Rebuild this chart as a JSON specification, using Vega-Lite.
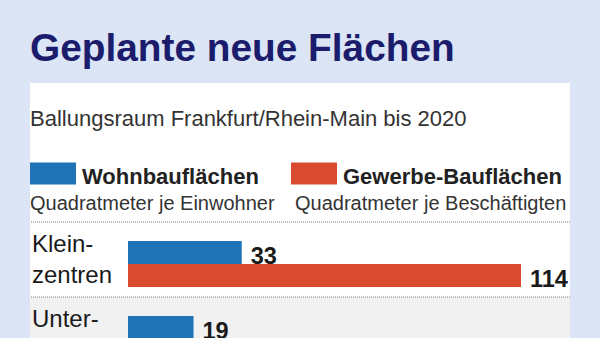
{
  "$schema": "https://vega.github.io/schema/vega-lite/v6.json",
  "width": 600,
  "height": 338,
  "autosize": {"type": "fit", "contains": "padding"},
  "padding": {"left": 30, "right": 30, "top": 30, "bottom": 0},
  "background": "#dce5f6",
  "title": {
    "text": "Geplante neue Flächen",
    "anchor": "start",
    "frame": "group",
    "font": "Liberation Sans",
    "fontSize": 38.8,
    "fontWeight": "bold",
    "color": "#1b1c6b",
    "offset": 14
  },
  "config": {"view": {"stroke": null, "fill": "#ffffff"}},
  "data": {
    "values": [
      {"kat": "Kleinzentren", "label": "Klein-\nzentren", "art": "Wohnbauflächen", "einheit": "Quadratmeter je Einwohner", "wert": 33},
      {"kat": "Kleinzentren", "label": "Klein-\nzentren", "art": "Gewerbe-Bauflächen", "einheit": "Quadratmeter je Beschäftigten", "wert": 114},
      {"kat": "Unterzentren", "label": "Unter-\nzentren", "art": "Wohnbauflächen", "einheit": "Quadratmeter je Einwohner", "wert": 19},
      {"kat": "Unterzentren", "label": "Unter-\nzentren", "art": "Gewerbe-Bauflächen", "einheit": "Quadratmeter je Beschäftigten", "wert": 68}
    ]
  },
  "layer": [
    {
      "transform": [{"filter": "datum.kat == 'Unterzentren' && datum.art == 'Wohnbauflächen'"}],
      "mark": {"type": "rect", "fill": "#f1f1f1", "clip": true},
      "encoding": {
        "y": {"field": "kat", "type": "nominal", "axis": null, "scale": {"domain": ["Kleinzentren", "Unterzentren"], "range": [139, 289], "paddingInner": 0, "paddingOuter": 0}},
        "x": {"value": 0},
        "x2": {"value": "width"}
      }
    },
    {
      "transform": [{"filter": "datum.art == 'Wohnbauflächen'"}],
      "mark": {"type": "rule", "color": "#a8a8a8", "strokeDash": [1, 1], "strokeWidth": 1.5, "clip": true},
      "encoding": {
        "y": {"field": "kat", "type": "nominal", "bandPosition": 0, "axis": null, "scale": {"domain": ["Kleinzentren", "Unterzentren"], "range": [139, 289], "paddingInner": 0, "paddingOuter": 0}}
      }
    },
    {
      "mark": {"type": "bar", "clip": true},
      "encoding": {
        "x": {"field": "wert", "type": "quantitative", "axis": null, "scale": {"domain": [0, 114], "range": [98, 491], "nice": false, "zero": true}},
        "y": {"field": "kat", "type": "nominal", "axis": null, "scale": {"domain": ["Kleinzentren", "Unterzentren"], "range": [139, 289], "paddingInner": 0, "paddingOuter": 0}},
        "yOffset": {"field": "art", "type": "nominal", "scale": {"domain": ["Wohnbauflächen", "Gewerbe-Bauflächen"], "range": [19, 65], "paddingInner": 0, "paddingOuter": 0}},
        "color": {
          "field": "art",
          "type": "nominal",
          "scale": {"domain": ["Wohnbauflächen", "Gewerbe-Bauflächen"], "range": ["#1f74b8", "#d84b2f"]},
          "legend": {
            "orient": "none",
            "legendX": 0,
            "legendY": 26,
            "title": "Ballungsraum Frankfurt/Rhein-Main bis 2020",
            "titleFont": "Liberation Sans",
            "titleFontSize": 22,
            "titleFontWeight": "normal",
            "titleColor": "#333333",
            "titlePadding": 23,
            "titleLimit": 600,
            "direction": "horizontal",
            "columns": 2,
            "columnPadding": 32,
            "symbolType": "M-1,-0.626H1V0.33H-1Z",
            "symbolSize": 2116,
            "symbolStrokeWidth": 0,
            "symbolOpacity": 1,
            "labelFont": "Liberation Sans",
            "labelFontSize": 22,
            "labelFontWeight": "bold",
            "labelColor": "#222222",
            "labelOffset": 6,
            "labelLimit": 300,
            "padding": 0
          }
        },
        "opacity": {
          "field": "einheit",
          "type": "nominal",
          "scale": {"domain": ["Quadratmeter je Einwohner", "Quadratmeter je Beschäftigten"], "range": [1, 1]},
          "legend": {
            "orient": "none",
            "legendX": 0,
            "legendY": 111,
            "title": null,
            "direction": "horizontal",
            "columns": 2,
            "columnPadding": 20,
            "symbolSize": 0,
            "symbolOpacity": 0,
            "symbolStrokeWidth": 0,
            "labelOffset": -20,
            "labelFont": "Liberation Sans",
            "labelFontSize": 20,
            "labelColor": "#333333",
            "labelLimit": 300,
            "padding": 0
          }
        }
      }
    },
    {
      "mark": {"type": "text", "align": "left", "baseline": "alphabetic", "dx": 9, "dy": 11, "font": "Liberation Sans", "fontSize": 23.5, "fontWeight": "bold", "color": "#1a1a1a", "clip": true},
      "encoding": {
        "x": {"field": "wert", "type": "quantitative", "axis": null, "scale": {"domain": [0, 114], "range": [98, 491], "nice": false, "zero": true}},
        "y": {"field": "kat", "type": "nominal", "axis": null, "scale": {"domain": ["Kleinzentren", "Unterzentren"], "range": [139, 289], "paddingInner": 0, "paddingOuter": 0}},
        "yOffset": {"field": "art", "type": "nominal", "scale": {"domain": ["Wohnbauflächen", "Gewerbe-Bauflächen"], "range": [19, 65], "paddingInner": 0, "paddingOuter": 0}},
        "text": {"field": "wert", "type": "quantitative"}
      }
    },
    {
      "transform": [{"filter": "datum.art == 'Wohnbauflächen'"}],
      "mark": {"type": "text", "align": "left", "baseline": "alphabetic", "lineBreak": "\n", "lineHeight": 31, "dx": 2, "dy": 30, "font": "Liberation Sans", "fontSize": 24, "color": "#1a1a1a", "clip": true},
      "encoding": {
        "x": {"value": 0},
        "y": {"field": "kat", "type": "nominal", "bandPosition": 0, "axis": null, "scale": {"domain": ["Kleinzentren", "Unterzentren"], "range": [139, 289], "paddingInner": 0, "paddingOuter": 0}},
        "text": {"field": "label", "type": "nominal"}
      }
    }
  ]
}
